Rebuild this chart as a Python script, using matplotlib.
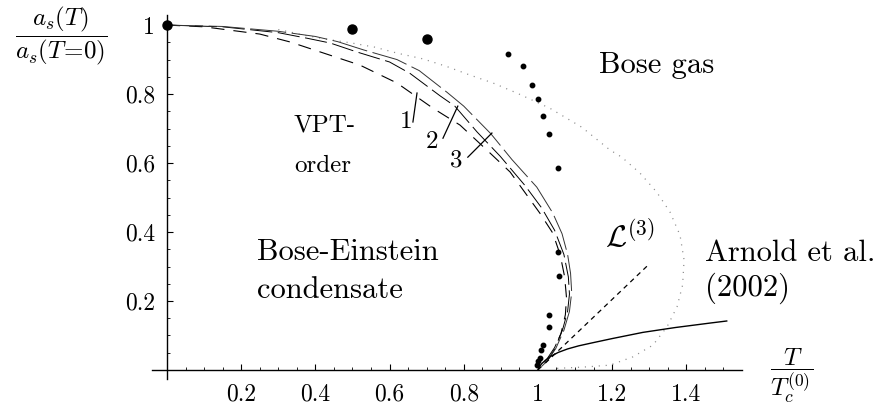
import matplotlib
matplotlib.use("Agg")
import matplotlib.pyplot as plt
import numpy as np
from matplotlib.ticker import FixedLocator, FixedFormatter

plt.rcParams.update({'font.family': 'cmr10', 'mathtext.fontset': 'cm',
                     'axes.formatter.use_mathtext': True, 'lines.scale_dashes': False})

# VPT curves, orders 1..3
vpt1_x = [0.0, 0.10, 0.25, 0.332, 0.447, 0.52, 0.62, 0.717, 0.79, 0.862, 0.925, 0.96,
          1.005, 1.04, 1.06, 1.072, 1.077, 1.074, 1.062, 1.045, 1.025, 1.0]
vpt1_y = [1.0, 0.995, 0.974, 0.951, 0.91, 0.884, 0.832, 0.759, 0.71, 0.638, 0.574, 0.522,
          0.455, 0.397, 0.334, 0.27, 0.21, 0.16, 0.105, 0.06, 0.025, 0.0]

vpt2_x = [0.0, 0.15, 0.30, 0.377, 0.44, 0.512, 0.60, 0.655, 0.736, 0.776, 0.836, 0.898, 0.965,
          1.01, 1.045, 1.07, 1.082, 1.085, 1.08, 1.066, 1.045, 1.022, 1.0]
vpt2_y = [1.0, 0.995, 0.978, 0.962, 0.948, 0.922, 0.893, 0.86, 0.795, 0.765, 0.69, 0.62, 0.535,
          0.47, 0.405, 0.335, 0.27, 0.22, 0.17, 0.115, 0.065, 0.028, 0.0]

vpt3_x = [0.0, 0.15, 0.30, 0.40, 0.46, 0.53, 0.62, 0.68, 0.755, 0.80, 0.873, 0.93, 0.997,
          1.04, 1.065, 1.08, 1.088, 1.091, 1.085, 1.07, 1.048, 1.024, 1.0]
vpt3_y = [1.0, 0.996, 0.982, 0.967, 0.952, 0.928, 0.9, 0.868, 0.805, 0.765, 0.685, 0.61, 0.53,
          0.455, 0.395, 0.335, 0.28, 0.225, 0.17, 0.115, 0.062, 0.025, 0.0]

# dotted curve
dot_x = [0.30, 0.332, 0.367, 0.43, 0.498, 0.56, 0.623, 0.69, 0.754, 0.817, 0.879, 0.943, 1.032,
         1.118, 1.194, 1.226, 1.275, 1.32, 1.356, 1.383, 1.394, 1.39, 1.375, 1.348, 1.31,
         1.256, 1.194, 1.132, 1.078, 1.04]
dot_y = [0.987, 0.98, 0.971, 0.959, 0.948, 0.936, 0.918, 0.902, 0.88, 0.855, 0.832, 0.803, 0.759,
         0.704, 0.638, 0.617, 0.571, 0.516, 0.458, 0.391, 0.319, 0.246, 0.183, 0.125, 0.072,
         0.038, 0.014, 0.009, 0.006, 0.004]

# Arnold et al. (2002)
arn_x = [1.0, 1.003, 1.01, 1.02, 1.035, 1.055, 1.08, 1.11, 1.148, 1.2, 1.283, 1.37, 1.464, 1.509]
arn_y = [0.0, 0.008, 0.018, 0.028, 0.04, 0.051, 0.061, 0.07, 0.079, 0.091, 0.109, 0.123, 0.136, 0.142]

# L^(3)
l3_x = [1.02, 1.297]
l3_y = [0.02, 0.304]

# big dots
big_x = [0.0, 0.499, 0.70]
big_y = [1.0, 0.988, 0.959]

# small dots
sm_x = [0.919, 0.96, 0.984, 1.0, 1.013, 1.03, 1.054, 1.055, 1.056, 1.03, 1.03, 1.013,
        1.008, 1.005, 0.999, 0.997]
sm_y = [0.916, 0.881, 0.826, 0.786, 0.736, 0.684, 0.586, 0.342, 0.272, 0.159, 0.125, 0.072,
        0.058, 0.035, 0.025, 0.014]

xmaj = [0.2, 0.4, 0.6, 0.8, 1.0, 1.2, 1.4]
xlab = ['0.2', '0.4', '0.6', '0.8', '1', '1.2', '1.4']
ymaj = [0.2, 0.4, 0.6, 0.8, 1.0]
ylab = ['0.2', '0.4', '0.6', '0.8', '1']

fig = plt.figure(figsize=(8.77, 4.07), dpi=100)
ax = fig.add_axes([0.1735, 0.0698, 0.6725, 0.894])
ax.set_xlim(-0.04, 1.55)
ax.set_ylim(-0.025, 1.03)

ax.spines['left'].set_position(('data', 0))
ax.spines['bottom'].set_position(('data', 0))
ax.spines['top'].set_visible(False)
ax.spines['right'].set_visible(False)
for s in ['left', 'bottom']:
    ax.spines[s].set_linewidth(1.0)

ax.xaxis.set_major_locator(FixedLocator(xmaj))
ax.xaxis.set_major_formatter(FixedFormatter(xlab))
ax.yaxis.set_major_locator(FixedLocator(ymaj))
ax.yaxis.set_major_formatter(FixedFormatter(ylab))
ax.xaxis.set_minor_locator(FixedLocator(np.arange(0.05, 1.52, 0.05)))
ax.yaxis.set_minor_locator(FixedLocator(np.arange(0.05, 1.01, 0.05)))
ax.tick_params(which='major', direction='in', length=4, width=0.8, labelsize=17)
ax.tick_params(which='minor', direction='in', length=2.5, width=0.6)
ax.tick_params(axis='x', which='major', pad=10)
ax.tick_params(axis='y', which='major', pad=8.5)

ax.plot(dot_x, dot_y, color='0.55', lw=0.9, linestyle=(0, (0.8, 4.2)))
ax.plot(vpt1_x, vpt1_y, color='k', lw=0.8, linestyle=(0, (9.5, 6.5)))
ax.plot(vpt2_x, vpt2_y, color='k', lw=0.7, linestyle=(0, (16, 4)))
ax.plot(vpt3_x, vpt3_y, color='0.2', lw=0.7, linestyle=(0, (26, 4)))
ax.plot(arn_x, arn_y, color='k', lw=1.0)
ax.plot(l3_x, l3_y, color='k', lw=0.9, linestyle=(0, (3.5, 3)))
ax.plot(big_x, big_y, 'o', color='k', ms=6.5, clip_on=False)
ax.plot(sm_x, sm_y, 'o', color='k', ms=3.2)

# order labels with leader lines
ax.plot([0.663, 0.674], [0.719, 0.803], color='k', lw=0.9)
ax.plot([0.744, 0.784], [0.672, 0.765], color='k', lw=0.9)
ax.plot([0.811, 0.876], [0.617, 0.687], color='k', lw=0.9)
ax.text(0.644, 0.719, '1', fontsize=18, ha='center', va='center')
ax.text(0.714, 0.662, '2', fontsize=18, ha='center', va='center')
ax.text(0.779, 0.607, '3', fontsize=18, ha='center', va='center')

ax.text(0.342, 0.71, 'VPT-', fontsize=18, ha='left', va='center')
ax.text(0.342, 0.592, 'order', fontsize=18, ha='left', va='center')
ax.text(1.164, 0.884, 'Bose gas', fontsize=22, ha='left', va='center')
ax.text(0.243, 0.342, 'Bose-Einstein', fontsize=22, ha='left', va='center')
ax.text(0.243, 0.232, 'condensate', fontsize=22, ha='left', va='center')
ax.text(1.45, 0.339, 'Arnold et al.', fontsize=22, ha='left', va='center')
ax.text(1.45, 0.236, '(2002)', fontsize=22, ha='left', va='center')
ax.text(1.18, 0.39, r'$\mathcal{L}^{(3)}$', fontsize=22, ha='left', va='center')

fig.text(61 / 877, 1 - 36 / 407, r'$\dfrac{a_s(T)}{a_s(T\!=\!0)}$', fontsize=18,
         ha='center', va='center')
fig.text(792 / 877, 1 - 376 / 407, r'$\dfrac{T}{T_c^{(0)}}$', fontsize=18,
         ha='center', va='center')

fig.savefig('out.png', dpi=100)
